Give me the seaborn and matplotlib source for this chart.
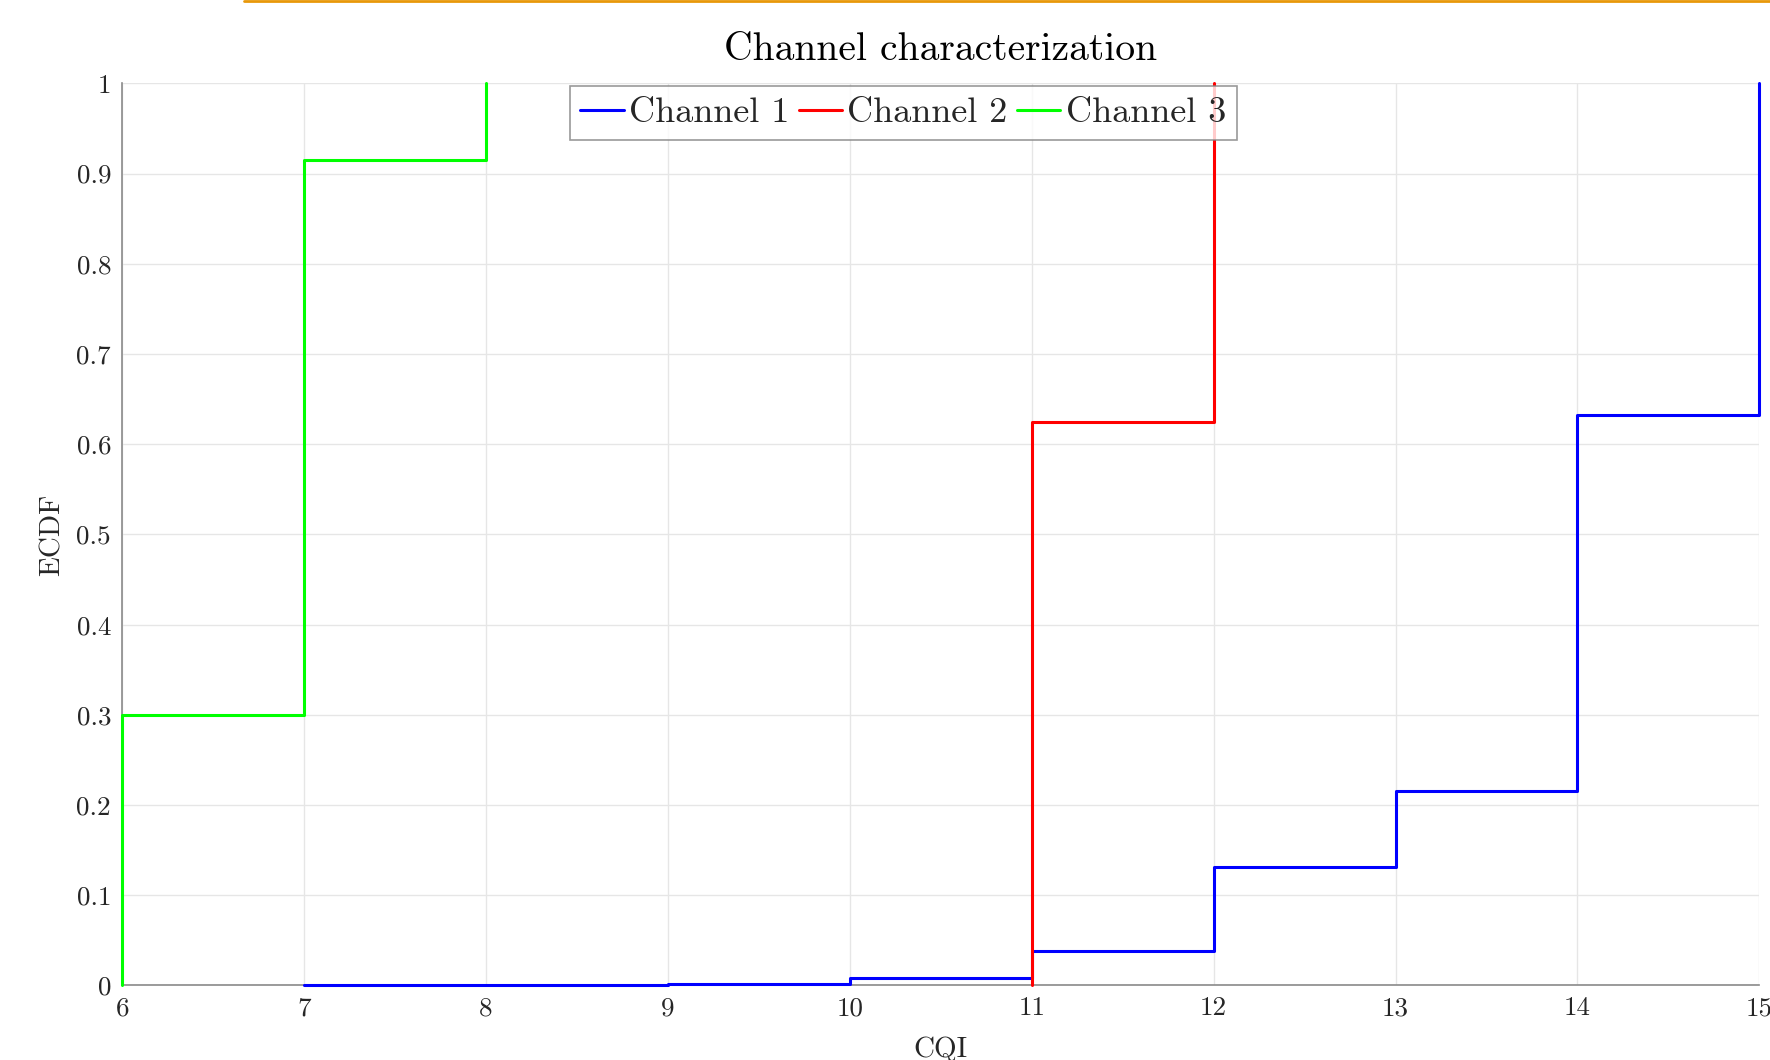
import numpy as np
import pandas as pd
import matplotlib
matplotlib.use('Agg')
import matplotlib.pyplot as plt
from matplotlib.lines import Line2D
import seaborn as sns

## ECDF step points (first point is the start of the stair at 0)
cqi_ch1 = [7, 7, 9, 10, 11, 12, 13, 14, 15]
ecdf_ch1 = [0.0, 0.0008, 0.0015, 0.008, 0.038, 0.131, 0.216, 0.632, 1.0]
cqi_ch2 = [11, 11, 12]
ecdf_ch2 = [0.0, 0.625, 1.0]
cqi_ch3 = [6, 6, 7, 8]
ecdf_ch3 = [0.0, 0.3, 0.915, 1.0]
channels = ['Channel 1', 'Channel 2', 'Channel 3']
colors = ['#0000ff', '#ff0000', '#00ff00']
x_ticks = list(range(6, 16))
y_ticks = [0, 0.1, 0.2, 0.3, 0.4, 0.5, 0.6, 0.7, 0.8, 0.9, 1]
y_labels = ['0', '0.1', '0.2', '0.3', '0.4', '0.5', '0.6', '0.7', '0.8', '0.9', '1']

df = pd.concat([
    pd.DataFrame({'CQI': cqi_ch1, 'ECDF': ecdf_ch1, 'channel': channels[0]}),
    pd.DataFrame({'CQI': cqi_ch2, 'ECDF': ecdf_ch2, 'channel': channels[1]}),
    pd.DataFrame({'CQI': cqi_ch3, 'ECDF': ecdf_ch3, 'channel': channels[2]}),
], ignore_index=True)

sns.set_style('white')
plt.rcParams['font.family'] = ['cmr10', 'DejaVu Sans']
plt.rcParams['mathtext.fontset'] = 'cm'
plt.rcParams['axes.formatter.use_mathtext'] = True

fig = plt.figure(figsize=(17.7, 10.6), dpi=100)
ax = fig.add_axes([0.069, 0.0703, 0.925, 0.851])

sns.lineplot(data=df, x='CQI', y='ECDF', hue='channel', palette=colors,
             estimator=None, sort=False, drawstyle='steps-post', lw=2.2, ax=ax)
for ln in ax.get_lines():
    ln.set_clip_on(False)
    ln.set_zorder(5)

ax.set_xlim(6, 15)
ax.set_ylim(0, 1)
ax.set_xticks(x_ticks)
ax.set_xticklabels([str(t) for t in x_ticks])
ax.set_yticks(y_ticks)
ax.set_yticklabels(y_labels)
ax.grid(True, color='#e6e6e6', lw=1)
ax.set_axisbelow(True)
for s in ['top', 'right']:
    ax.spines[s].set_visible(False)
for s in ['left', 'bottom']:
    ax.spines[s].set_color('#8a8a8a')
    ax.spines[s].set_linewidth(1.2)
ax.tick_params(direction='in', length=7, width=1.2, colors='#404040',
               labelsize=19.5, labelcolor='#262626', pad=8)

ax.set_xlabel('CQI', fontsize=21, color='#262626', labelpad=12)
ax.set_ylabel('ECDF', fontsize=21, color='#262626', labelpad=8)
ax.set_title('Channel characterization', fontsize=28.5, color='black', pad=17)

handles = [Line2D([], [], color=c, lw=2.2) for c in colors]
leg = ax.legend(handles, channels, loc='upper center', bbox_to_anchor=(0.477, 0.997),
                ncol=3, fontsize=26, frameon=True, fancybox=False,
                handlelength=1.2, handletextpad=0.15, columnspacing=0.25,
                borderpad=0.3, borderaxespad=0)
leg.get_frame().set_edgecolor('#808080')
leg.get_frame().set_linewidth(1.2)
leg.set_zorder(10)

fig.add_artist(Line2D([0.138, 1.0], [0.999, 0.999], color='#e8980a', lw=2,
                      transform=fig.transFigure))

fig.savefig('out.png', dpi=100)
